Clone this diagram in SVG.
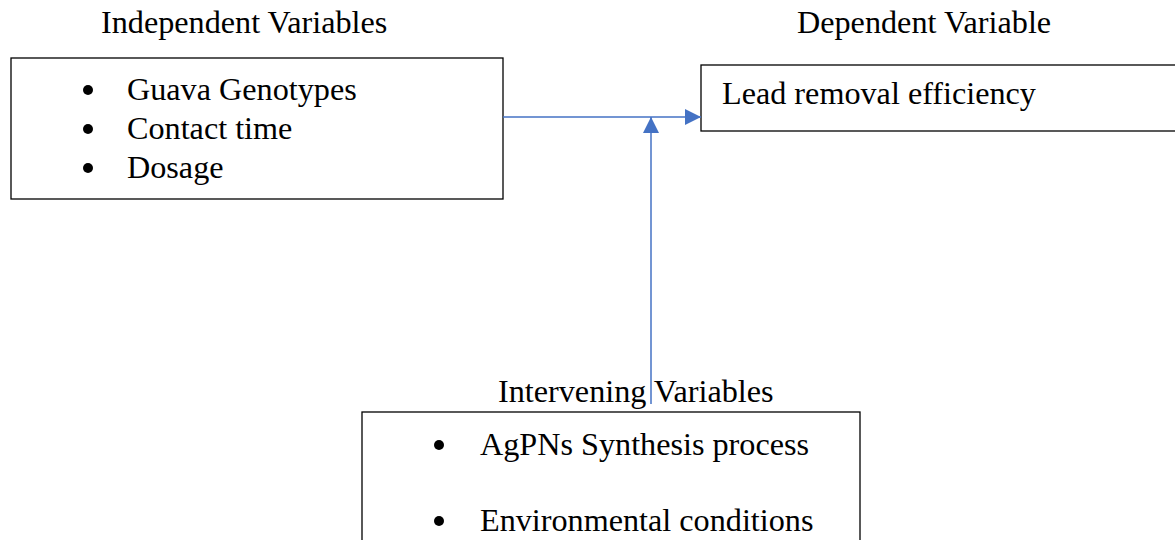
<svg xmlns="http://www.w3.org/2000/svg" width="1175" height="540" viewBox="0 0 1175 540">
<defs>
<style>
.t{font-family:"Liberation Serif","Times New Roman",serif;font-size:32.2px;fill:#000}
.box{fill:#fff;stroke:#000;stroke-width:1.3}
.c{stroke:#4472C4;stroke-width:1.5;fill:none}
.b{fill:#000}
</style>
<marker id="ah2" viewBox="0 0 10 10" refX="10" refY="5" markerWidth="16" markerHeight="16" markerUnits="userSpaceOnUse" orient="auto"><path d="M0,0 L10,5 L0,10 Z" fill="#4472C4"/></marker>
</defs>
<g id="labels">
<text class="t" x="101" y="33">Independent Variables</text>
<text class="t" x="797" y="33">Dependent Variable</text>
</g>
<g id="independent">
<rect class="box" x="11" y="58" width="492" height="141"/>
<circle class="b" cx="88" cy="90" r="5"/>
<circle class="b" cx="88" cy="129" r="5"/>
<circle class="b" cx="88" cy="168" r="5"/>
<text class="t" x="127" y="100">Guava Genotypes</text>
<text class="t" x="127" y="139">Contact time</text>
<text class="t" x="127" y="178">Dosage</text>
</g>
<g id="dependent">
<rect class="box" x="701" y="65" width="480" height="66"/>
<text class="t" x="722" y="104">Lead removal efficiency</text>
</g>
<g id="intervening">
<rect class="box" x="362" y="412" width="498" height="140"/>
<circle class="b" cx="439" cy="445" r="5"/>
<circle class="b" cx="439" cy="521" r="5"/>
<text class="t" x="480" y="455">AgPNs Synthesis process</text>
<text class="t" x="480" y="531">Environmental conditions</text>
</g>
<g id="connectors">
<path class="c" d="M503,117 H701" marker-end="url(#ah2)"/>
<path class="c" d="M651,404 V117" marker-end="url(#ah2)"/>
</g>
<text class="t" x="498" y="402">Intervening Variables</text>
</svg>
